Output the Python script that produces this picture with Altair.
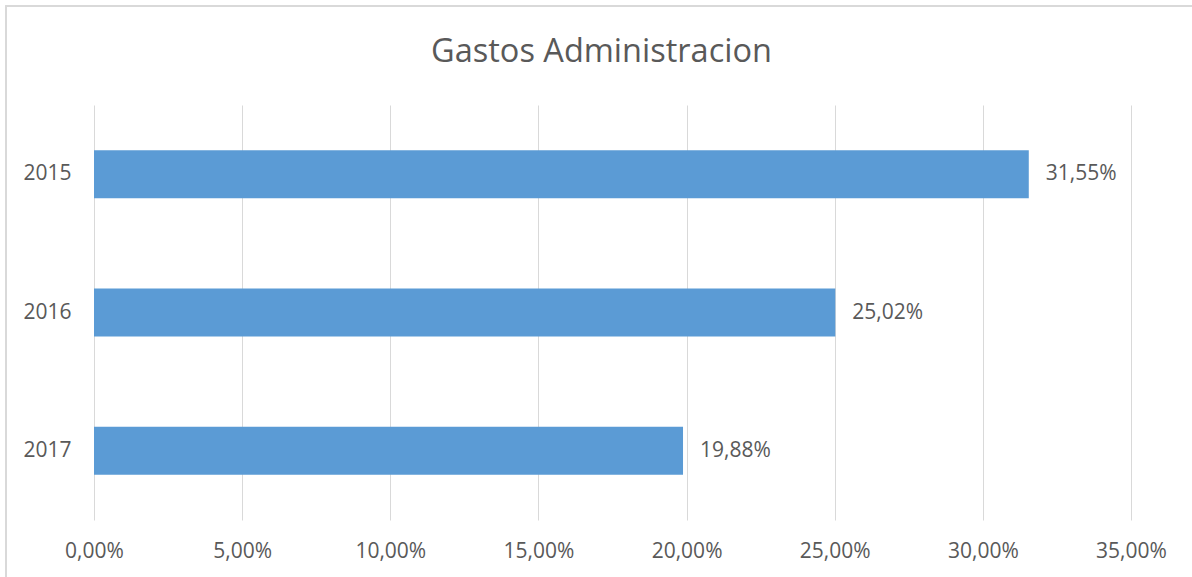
import altair as alt
import pandas as pd

years = ["2015", "2016", "2017"]
values = [31.55, 25.02, 19.88]
ticks = [0, 5, 10, 15, 20, 25, 30, 35]
title_text = "Gastos Administracion"

df = pd.DataFrame({
    "year": years,
    "value": values,
    "label": [f"{v:.2f}%".replace(".", ",") for v in values],
})

FONT = "Open Sans"
TXT = "#595959"

x_enc = alt.X(
    "value:Q",
    scale=alt.Scale(domain=[0, 35], nice=False, zero=True),
    axis=alt.Axis(
        values=ticks,
        title=None,
        grid=True,
        gridColor="#D9D9D9",
        gridWidth=1,
        domain=False,
        ticks=False,
        tickSize=0,
        labelFlush=False,
        labelOverlap=False,
        labelPadding=31,
        labelBaseline="middle",
        labelFont=FONT,
        labelFontSize=21,
        labelColor=TXT,
        labelExpr="replace(format(datum.value, '.2f'), '.', ',') + '%'",
    ),
)
y_enc = alt.Y(
    "year:N",
    sort=years,
    scale=alt.Scale(paddingInner=0, paddingOuter=0),
    axis=alt.Axis(
        title=None,
        domain=False,
        ticks=False,
        tickSize=0,
        grid=False,
        labelPadding=23,
        labelFont=FONT,
        labelFontSize=21,
        labelColor=TXT,
    ),
)

bars = alt.Chart(df).mark_bar(size=48, color="#5B9BD5").encode(x=x_enc, y=y_enc)

labels = alt.Chart(df).mark_text(
    align="left", baseline="middle", dx=17, font=FONT, fontSize=21, color=TXT
).encode(x="value:Q", y=alt.Y("year:N", sort=years), text="label:N")

border = alt.Chart(df).mark_rect(
    fill=None, stroke="#D9D9D9", strokeWidth=1.5
).encode(
    x=alt.value(-88), x2=alt.value(1200), y=alt.value(-99), y2=alt.value(600)
)

title = alt.Chart(pd.DataFrame({"t": [title_text]})).mark_text(
    align="center", baseline="alphabetic", font=FONT, fontSize=32.5, color=TXT
).encode(x=alt.value(507.5), y=alt.value(-43), text="t:N")

chart = alt.layer(border, bars, labels, title).properties(
    width=1037,
    height=415,
    padding={"left": 94, "top": 105, "right": 61, "bottom": 57},
    autosize=alt.AutoSizeParams(type="none"),
).configure(background="white").configure_view(stroke=None)

chart.save("out.html", embed_options={"renderer": "svg", "actions": False})
